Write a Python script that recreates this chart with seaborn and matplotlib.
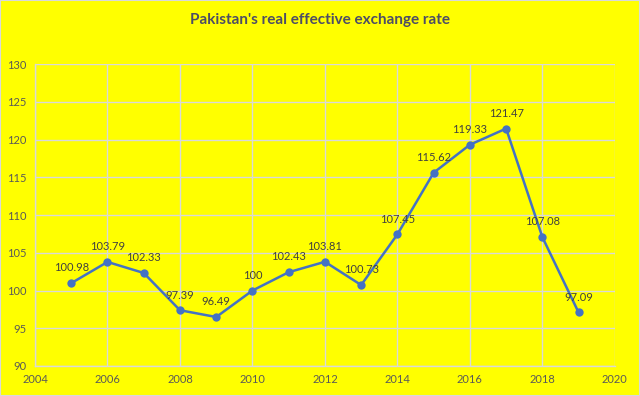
import matplotlib
matplotlib.use("Agg")
import matplotlib.pyplot as plt
import pandas as pd
import seaborn as sns

years = [2005, 2006, 2007, 2008, 2009, 2010, 2011, 2012, 2013, 2014, 2015, 2016, 2017, 2018, 2019]
reer = [100.98, 103.79, 102.33, 97.39, 96.49, 100, 102.43, 103.81, 100.73, 107.45, 115.62, 119.33, 121.47, 107.08, 97.09]
labels = ["100.98", "103.79", "102.33", "97.39", "96.49", "100", "102.43", "103.81", "100.73",
          "107.45", "115.62", "119.33", "121.47", "107.08", "97.09"]

df = pd.DataFrame({"year": years, "reer": reer})

sns.set_theme(style="whitegrid")
plt.rcParams["font.family"] = ["Lato", "DejaVu Sans"]

yellow = "#FFFF00"
fig = plt.figure(figsize=(6.4, 3.96), dpi=100, facecolor=yellow)
ax = fig.add_axes([0.0547, 0.0758, 0.906, 0.762])
ax.set_facecolor(yellow)

sns.lineplot(data=df, x="year", y="reer", color="#4472C4", linewidth=1.8,
             marker="o", markersize=6, markeredgewidth=0, ax=ax, zorder=3)

for x, y, t in zip(years, reer, labels):
    ax.annotate(t, (x, y), xytext=(0, 7), textcoords="offset points",
                ha="center", va="bottom", fontsize=8, color="#404040")

ax.set_xlim(2004, 2020)
ax.set_ylim(90, 130)
ax.set_xticks(range(2004, 2021, 2))
ax.set_yticks(range(90, 131, 5))
ax.grid(True, color="#D9D9D9", linewidth=1)
ax.set_xlabel("")
ax.set_ylabel("")
for side in ["top", "right"]:
    ax.spines[side].set_visible(False)
for side in ["left", "bottom"]:
    ax.spines[side].set_color("#D9D9D9")
    ax.spines[side].set_linewidth(1)
ax.tick_params(axis="both", labelsize=8, colors="#595959", length=0, pad=6)

fig.text(0.5, 0.95, "Pakistan's real effective exchange rate", ha="center", va="center",
         fontsize=11, fontweight="bold", color="#4D4D66")

fig.patches.append(plt.Rectangle((0, 0), 1, 1, transform=fig.transFigure, fill=False,
                                 edgecolor="#D9D9D9", linewidth=1.5))

fig.savefig("out.png", dpi=100, facecolor=yellow)
